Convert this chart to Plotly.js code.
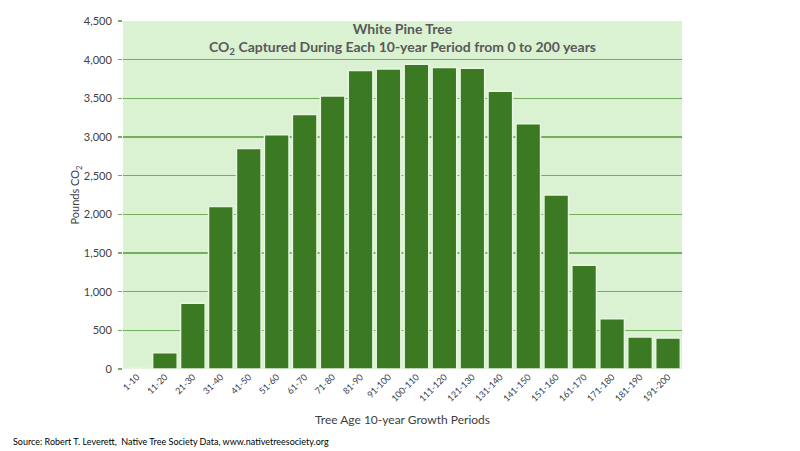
<!DOCTYPE html>
<html>
<head>
<meta charset="utf-8">
<script src="https://cdn.plot.ly/plotly-3.0.1.min.js"></script>
<style>html,body{margin:0;padding:0;background:#fff;}#chart{width:800px;height:451px;}</style>
</head>
<body>
<div id="chart"></div>
<script>
const periods = ['1-10','11-20','21-30','31-40','41-50','51-60','61-70','71-80','81-90','91-100','100-110','111-120','121-130','131-140','141-150','151-160','161-170','171-180','181-190','191-200'];
const poundsCO2 = [10, 210, 850, 2100, 2850, 3030, 3290, 3530, 3860, 3880, 3940, 3900, 3890, 3590, 3170, 2250, 1340, 650, 415, 400];
const yTicks = [0, 500, 1000, 1500, 2000, 2500, 3000, 3500, 4000, 4500];

const font = 'Lato, "Open Sans", "DejaVu Sans", sans-serif';

const trace = {
  type: 'bar',
  x: periods,
  y: poundsCO2,
  marker: {color: '#3b7a23', line: {color: '#e6f6e0', width: 1.5}},
  hoverinfo: 'x+y'
};

const layout = {
  width: 800, height: 451,
  margin: {l: 123, r: 118, t: 21, b: 82},
  paper_bgcolor: '#ffffff',
  plot_bgcolor: '#daf2d1',
  bargap: 0.12,
  showlegend: false,
  title: {
    text: '<b>White Pine Tree</b><br><b>CO<sub>2</sub> Captured During Each 10-year Period from 0 to 200 years</b>',
    font: {family: font, size: 14, color: '#595959'},
    x: 0.5, xref: 'paper', xanchor: 'center',
    y: 0.925, yref: 'container', yanchor: 'top'
  },
  xaxis: {
    type: 'category',
    tickangle: -45,
    tickfont: {family: font, size: 9, color: '#404040'},
    showgrid: false, zeroline: false, showline: false,
    ticks: '',
    title: {text: 'Tree Age 10-year Growth Periods', font: {family: font, size: 12, color: '#404040'}, standoff: 12}
  },
  yaxis: {
    range: [0, 4500],
    tickvals: yTicks,
    tickformat: ',',
    tickfont: {family: font, size: 11, color: '#404040'},
    showgrid: true, gridcolor: '#74ad5c', gridwidth: 1.5,
    zeroline: false, showline: false,
    ticks: 'outside', ticklen: 4, tickcolor: '#74ad5c', tickwidth: 1.5,
    ticklabelstandoff: 4,
    title: {text: 'Pounds CO<sub>2</sub>', font: {family: font, size: 11, color: '#404040'}, standoff: 1}
  },
  annotations: [{
    text: 'Source: Robert T. Leverett,  Native Tree Society Data, www.nativetreesociety.org',
    xref: 'paper', yref: 'paper',
    x: -0.2, y: -0.207, xanchor: 'left', yanchor: 'middle',
    showarrow: false,
    font: {family: font, size: 9, color: '#000000'}
  }]
};

Plotly.newPlot('chart', [trace], layout, {displayModeBar: false, staticPlot: true});
</script>
</body>
</html>
